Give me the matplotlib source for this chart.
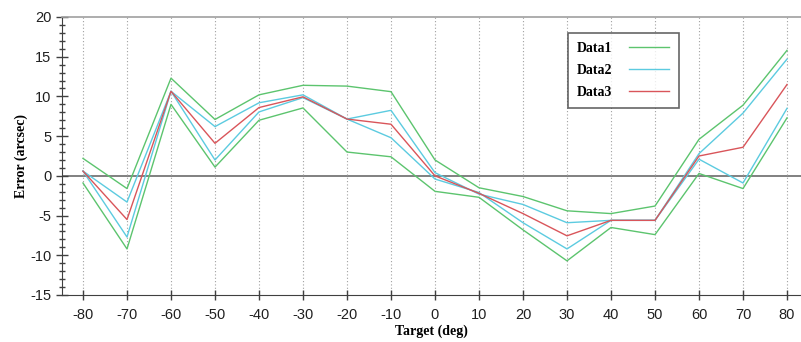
import numpy as np
import matplotlib.pyplot as plt
from matplotlib.ticker import MultipleLocator

plt.rcParams['axes.unicode_minus'] = False

# target angles (deg)
target = [-80, -70, -60, -50, -40, -30, -20, -10, 0, 10, 20, 30, 40, 50, 60, 70, 80]

# Data1 : upper / lower envelope (green)
data1_hi = [2.2, -1.6, 12.3, 7.1, 10.2, 11.4, 11.3, 10.6, 2.0, -1.5, -2.6, -4.4, -4.75, -3.8, 4.6, 8.9, 15.8]
data1_lo = [-0.9, -9.2, 9.0, 1.1, 7.0, 8.55, 3.0, 2.4, -1.95, -2.7, -6.8, -10.7, -6.5, -7.4, 0.3, -1.6, 7.3]
# Data2 : upper / lower (cyan)
data2_hi = [0.6, -3.3, 10.65, 6.2, 9.2, 10.2, 7.15, 8.25, 0.4, -2.3, -3.6, -5.9, -5.6, -5.6, 2.8, 7.9, 14.7]
data2_lo = [0.6, -7.7, 10.65, 2.0, 8.05, 9.85, 7.15, 4.8, -0.4, -2.1, -5.9, -9.2, -5.6, -5.6, 2.1, -0.9, 8.5]
# Data3 (red)
data3 = [0.6, -5.5, 10.65, 4.1, 8.6, 9.95, 7.15, 6.5, 0.0, -2.2, -4.75, -7.55, -5.6, -5.6, 2.5, 3.6, 11.5]

green = '#5cc46e'
cyan = '#5ccbe0'
red = '#d9555a'

fig = plt.figure(figsize=(8.01, 3.42), dpi=100)
ax = fig.add_axes([62 / 801, 1 - 295 / 342, 1 - 62 / 801, (295 - 17) / 342])

ax.plot(target, data1_hi, color=green, lw=1.0, label='Data1')
ax.plot(target, data1_lo, color=green, lw=1.0)
ax.plot(target, data2_hi, color=cyan, lw=1.0, label='Data2')
ax.plot(target, data2_lo, color=cyan, lw=1.0)
ax.plot(target, data3, color=red, lw=1.0, label='Data3')

ax.axhline(0, color='#808080', lw=1.4, zorder=0)
for t in target:
    ax.axvline(t, color='#a0a0a0', lw=0.8, ls=(0, (1, 2)), zorder=0)

ax.set_xlim(-84.77, 83.18)
ax.set_ylim(-15, 20)
ax.set_xticks(target)
ax.yaxis.set_major_locator(MultipleLocator(5))
ax.yaxis.set_minor_locator(MultipleLocator(1))

ax.spines['right'].set_visible(False)
ax.spines['top'].set_color('#a0a0a0')
ax.spines['top'].set_linewidth(1.2)
ax.spines['left'].set_color('#404040')
ax.spines['bottom'].set_color('#404040')

ax.tick_params(axis='y', which='major', direction='inout', length=8, width=1, color='#404040')
ax.tick_params(axis='y', which='minor', direction='inout', length=5, width=1, color='#404040')
ax.tick_params(axis='x', which='major', direction='inout', length=7, width=1, color='#404040', pad=6)
for lab in ax.get_xticklabels() + ax.get_yticklabels():
    lab.set_fontfamily('Liberation Sans')
    lab.set_fontsize(10.5)
    lab.set_color('#202020')

ax.set_xlabel('Target (deg)', fontfamily='Liberation Serif', fontweight='bold', fontsize=10, labelpad=2)
ax.set_ylabel('Error (arcsec)', fontfamily='Liberation Serif', fontweight='bold', fontsize=10, labelpad=2)

leg = ax.legend(loc='upper left', bbox_to_anchor=((568 - 62) / 739, 1 - (33 - 17) / 278),
                markerfirst=False, frameon=True, fancybox=False, edgecolor='#404040',
                prop={'family': 'Liberation Serif', 'weight': 'bold', 'size': 10},
                handlelength=2.9, handletextpad=1.2, labelspacing=0.65,
                borderpad=0.65, borderaxespad=0)
leg.get_frame().set_linewidth(1.2)

fig.savefig('out.png', dpi=100)
